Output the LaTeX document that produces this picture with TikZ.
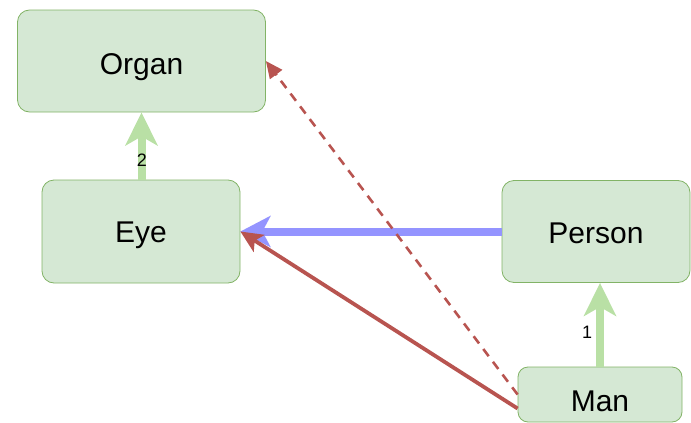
\documentclass[tikz,border=0pt]{standalone}
\usepackage{fontspec}
\setmainfont{Liberation Sans}
\usetikzlibrary{arrows.meta}
\definecolor{boxfill}{HTML}{D5E8D4}
\definecolor{boxline}{HTML}{82B366}
\definecolor{genarrow}{HTML}{B9E0A5}
\definecolor{assoc}{HTML}{9494FF}
\definecolor{redline}{HTML}{B85450}
\tikzset{
  cls/.style={draw=boxline, fill=boxfill, line width=0.8pt, rounded corners=12pt,
    inner sep=0pt, text depth=0pt, font=\fontsize{30}{33}\selectfont},
  genedge/.style={draw=genarrow, line width=8pt,
    -{Stealth[length=33pt, width=32pt, inset=9pt]}},
  assocedge/.style={draw=assoc, line width=8pt,
    -{Stealth[length=30pt, width=31pt, inset=8pt]}},
  depedge/.style={draw=redline, line width=3.8pt,
    -{Stealth[length=22pt, width=20pt, inset=5pt]}},
  dashedge/.style={draw=redline, line width=2.6pt, dash pattern=on 9pt off 7pt,
    -{Triangle[length=17pt, width=15pt]}},
  lbl/.style={font=\fontsize{18}{20}\selectfont, inner sep=1pt}
}
\begin{document}
\begin{tikzpicture}[x=1pt, y=-1pt]
\useasboundingbox (0,0) rectangle (691,423);
\node[cls, minimum width=248pt, minimum height=102pt, text height=27pt] (organ) at (141.5,61) {Organ};
\node[cls, minimum width=198pt, minimum height=103pt, text height=21pt] (eye) at (141,231.5) {Eye};
\node[cls, minimum width=188pt, minimum height=102pt, text height=23pt] (person) at (596,231.5) {Person};
\node[cls, minimum width=164pt, minimum height=55pt, rounded corners=10pt, text height=34pt] (man) at (600,394.5) {Man};
\coordinate (manlow) at ([yshift=-14pt]man.west);
\draw[genedge] (eye.north -| organ.south) -- (organ.south);
\draw[genedge] (man.north) -- (man.north |- person.south);
\node[lbl] (two) at (142,160) {2};
\node[lbl] (one) at (587,332) {1};
\draw[assocedge] (person.west) -- (person.west -| eye.east);
\draw[dashedge] (man.west) -- (organ.east);
\draw[depedge] (manlow) -- (eye.east);
\end{tikzpicture}
\end{document}
